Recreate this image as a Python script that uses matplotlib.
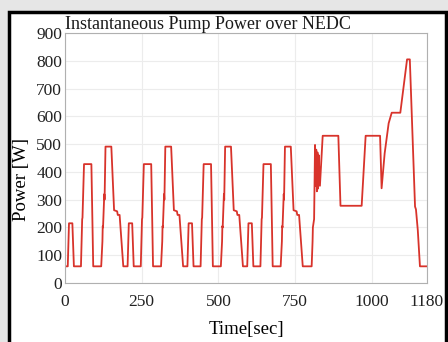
import numpy as np
import matplotlib
matplotlib.use('Agg')
import matplotlib.pyplot as plt
from matplotlib.patches import Rectangle

# Pump power: four ECE urban cycles then the EUDC part
t_ece1 = [0, 9, 13, 24, 29, 52, 55, 56, 57, 62, 86, 92, 118, 122, 123, 124, 127, 128, 129, 132, 151, 160, 170, 172, 178, 190]
t_ece2 = [195, 204, 208, 219, 224, 247, 250, 251, 252, 257, 281, 287, 313, 317, 318, 319, 322, 323, 324, 327, 346, 355, 365, 367, 373, 385]
t_ece3 = [390, 399, 403, 414, 419, 442, 445, 446, 447, 452, 476, 482, 508, 512, 513, 514, 517, 518, 519, 522, 541, 550, 560, 562, 568, 580]
t_ece4 = [585, 594, 598, 609, 614, 637, 640, 641, 642, 647, 671, 677, 703, 707, 708, 709, 712, 713, 714, 717, 736, 745, 755, 757, 763, 775]
p_ece = [60, 60, 215, 215, 60, 60, 180, 230, 235, 428, 428, 60, 60, 150, 205, 200, 285, 320, 300, 491, 491, 262, 258, 245, 245, 60]

t_eudc = [780, 804, 807, 808, 812, 815, 817, 819, 821, 823, 825, 827, 831, 840, 891, 898, 967, 980,
          1027, 1032, 1042, 1055, 1065, 1093, 1115, 1124, 1141, 1144, 1150, 1157, 1180]
p_eudc = [60, 60, 150, 200, 230, 497, 350, 480, 330, 470, 340, 460, 350, 530, 530, 278, 278, 530,
          530, 341, 467, 575, 613, 613, 805, 805, 275, 265, 190, 60, 60]

time = t_ece1 + t_ece2 + t_ece3 + t_ece4 + t_eudc
power = p_ece * 4 + p_eudc

x_ticks = [0, 250, 500, 750, 1000, 1180]
y_ticks = [0, 100, 200, 300, 400, 500, 600, 700, 800, 900]

plt.rcParams['font.family'] = ['Liberation Serif', 'DejaVu Serif']

fig = plt.figure(figsize=(4.48, 3.42), dpi=100, facecolor='#e6e6e6')
# white panel with black frame, behind the axes
frame = Rectangle((9 / 448, -0.05), 437 / 448, (342 - 12) / 342 + 0.05,
                  transform=fig.transFigure, facecolor='white',
                  edgecolor='black', linewidth=2.5, zorder=-10)
fig.add_artist(frame)

ax = fig.add_axes([65 / 448, (342 - 283) / 342, 362 / 448, 250 / 342])
ax.set_zorder(5)
ax.set_facecolor('white')
ax.plot(time, power, color='#d8332b', linewidth=1.3)

ax.set_xlim(0, 1180)
ax.set_ylim(0, 900)
ax.set_xticks(x_ticks)
ax.set_yticks(y_ticks)
ax.tick_params(length=0, labelsize=12.5, colors='#222222')
ax.tick_params(axis='x', pad=8)
ax.tick_params(axis='y', pad=2)
ax.grid(True, color='#ececec', linewidth=0.8)
for s in ax.spines.values():
    s.set_color('#b0b0b0')
    s.set_linewidth(0.8)

ax.set_xlabel('Time[sec]', fontsize=13.5, labelpad=8)
ax.set_ylabel('Power [W]', fontsize=13.5)
ax.yaxis.set_label_coords(-0.098, 0.415)
ax.set_title('Instantaneous Pump Power over NEDC', fontsize=13, loc='left',
             pad=0, x=0.0, color='#1a1a1a')

fig.savefig('out.png', dpi=100, facecolor=fig.get_facecolor())
